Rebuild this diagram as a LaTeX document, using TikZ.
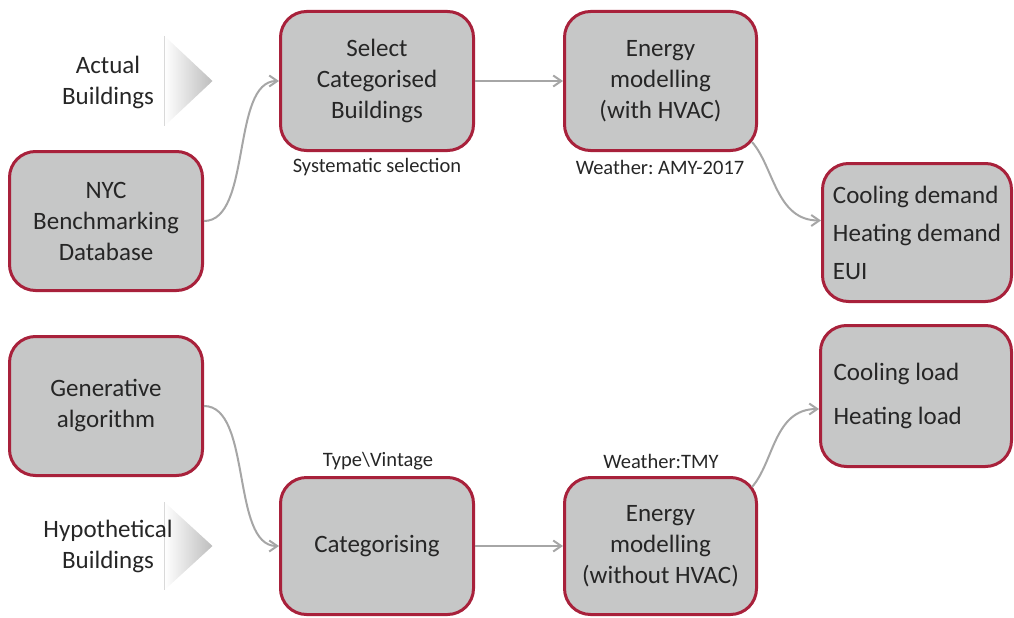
\documentclass[tikz,border=0pt]{standalone}
\usepackage{fontspec}
\setmainfont{Carlito}
\usetikzlibrary{arrows.meta}
\definecolor{boxfill}{HTML}{C6C7C7}
\definecolor{boxline}{HTML}{A8213B}
\definecolor{txt}{HTML}{262626}
\definecolor{conncol}{HTML}{A6A6A6}
\definecolor{trigray}{HTML}{BDBDBD}
\frenchspacing
\tikzset{
  box/.style={draw=boxline, fill=boxfill, line width=3pt, rounded corners=26pt,
    minimum width=193pt, minimum height=139pt, inner sep=0pt, align=center,
    text=txt, font=\fontsize{25}{31}\selectfont},
  lbl/.style={text=txt, font=\fontsize{20.5}{24}\selectfont, inner sep=0pt},
  side/.style={text=txt, font=\fontsize{25}{31}\selectfont, align=center, inner sep=0pt},
  conn/.style={draw=conncol, line width=2pt, -{Straight Barb[length=8pt,width=11pt]}},
}
\begin{document}
\begin{tikzpicture}[x=1pt,y=-1pt]
\useasboundingbox (0,0) rectangle (1014,618);

% side labels with shaded triangles
\shade[left color=white, right color=trigray] (164.5,36) -- (212.5,81) -- (164.5,126) -- cycle;
\draw[gray!30, line width=0.6pt] (164.5,36) -- (164.5,126);
\node[side] (actual) at (108,82.5) {Actual\\Buildings};
\shade[left color=white, right color=trigray] (164.5,502) -- (212.5,546) -- (164.5,590) -- cycle;
\draw[gray!30, line width=0.6pt] (164.5,502) -- (164.5,590);
\node[side] (hypo) at (108,546.5) {Hypothetical\\Buildings};

% boxes
\node[box] (select) at (377,81) {Select\\Categorised\\Buildings};
\node[box] (nyc) at (106,221) {NYC\\Benchmarking\\Database};
\node[box, minimum width=192pt] (e1) at (660.5,81) {Energy\\modelling\\(with HVAC)};
\node[box, minimum width=189pt, minimum height=138pt, align=left,
      font=\fontsize{25}{38}\selectfont] (demand) at (917,232.5)
      {Cooling demand\\Heating demand\\EUI};
\node[box] (gen) at (106,406) {Generative\\algorithm};
\node[box, minimum height=137pt] (categ) at (377,546) {Categorising};
\node[box, minimum width=192pt, minimum height=137pt] (e2) at (660.5,546) {Energy\\modelling\\(without HVAC)};
\node[box, minimum width=191pt, minimum height=141pt, align=left,
      font=\fontsize{25}{44}\selectfont] (load) at (916,396)
      {Cooling load\hspace*{39pt}\\Heating load};

% labels
\node[lbl] (l1) at (377,167) {Systematic selection};
\node[lbl] (l2) at (660,167) {Weather: AMY-2017};
\node[lbl] (l3) at (378,461) {Type\textbackslash Vintage};
\node[lbl] (l4) at (661,461) {Weather:TMY};

% connectors
\draw[conn] (nyc.east) .. controls +(48,0) and +(-48,0) .. (select.west);
\draw[conn] (gen.east) .. controls +(48,0) and +(-48,0) .. (categ.west);
\draw[conn] (select.east) -- (e1.west);
\draw[conn] (categ.east) -- (e2.west);
\draw[conn] ([shift={(-6,-10)}]e1.south east) .. controls +(22,25) and +(-45,0) .. ([shift={(0,-12)}]demand.west);
\draw[conn] ([shift={(-6,11)}]e2.north east) .. controls +(22,-25) and +(-45,0) .. ([shift={(0,13)}]load.west);
\end{tikzpicture}
\end{document}
